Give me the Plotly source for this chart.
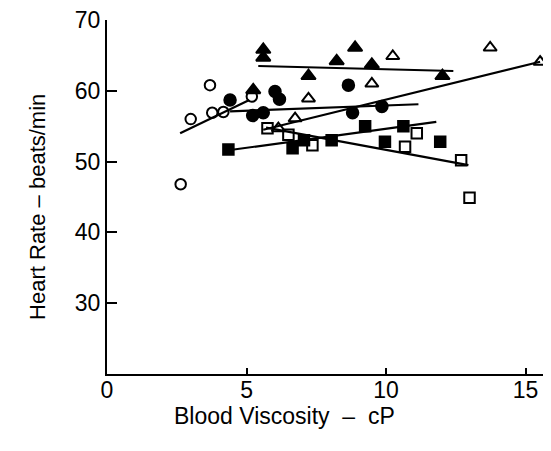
import plotly.graph_objects as go

# Open circles
oc_x = [2.64, 3.00, 3.69, 3.77, 4.17, 5.19]
oc_y = [46.8, 56.0, 60.8, 56.9, 57.0, 59.2]
oc_line_x = [2.62, 5.10]
oc_line_y = [54.0, 58.7]

# Filled circles
fc_x = [4.41, 5.22, 5.60, 6.02, 6.18, 8.65, 8.80, 9.85]
fc_y = [58.7, 56.5, 56.9, 59.9, 58.8, 60.8, 56.9, 57.8]
fc_line_x = [4.41, 11.16]
fc_line_y = [57.1, 58.1]

# Filled triangles
ft_x = [5.24, 5.60, 5.60, 7.22, 8.23, 8.89, 9.49, 12.02]
ft_y = [60.1, 65.8, 64.7, 62.1, 64.2, 66.1, 63.7, 62.1]
ft_line_x = [5.42, 12.41]
ft_line_y = [63.5, 62.8]

# Open triangles
ot_x = [6.14, 6.74, 7.22, 9.49, 10.24, 13.73, 15.52]
ot_y = [54.7, 56.1, 58.9, 61.0, 64.9, 66.1, 64.1]
ot_line_x = [5.60, 15.52]
ot_line_y = [54.5, 64.1]

# Filled squares
fs_x = [4.35, 6.65, 7.06, 8.05, 9.25, 9.96, 10.62, 11.94]
fs_y = [51.7, 51.9, 53.0, 53.0, 55.0, 52.8, 55.0, 52.8]
fs_line_x = [4.35, 11.80]
fs_line_y = [51.6, 55.6]

# Open squares
os_x = [5.75, 6.50, 7.36, 10.68, 11.10, 12.69, 12.99]
os_y = [54.7, 53.8, 52.3, 52.1, 54.0, 50.2, 44.9]
os_line_x = [5.70, 12.95]
os_line_y = [54.8, 49.5]

x_ticks = [0, 5, 10, 15]
y_ticks = [30, 40, 50, 60, 70]
x_title = "Blood Viscosity \u00a0\u2013\u00a0 cP"
y_title = "Heart Rate \u2013 beats/min"

fig = go.Figure()

lines = [(oc_line_x, oc_line_y), (fc_line_x, fc_line_y), (ft_line_x, ft_line_y),
         (ot_line_x, ot_line_y), (fs_line_x, fs_line_y), (os_line_x, os_line_y)]
for lx, ly in lines:
    fig.add_trace(go.Scatter(x=lx, y=ly, mode="lines",
                             line=dict(color="black", width=2.2), showlegend=False,
                             hoverinfo="skip"))

groups = [
    (oc_x, oc_y, "circle-open", 10.5),
    (fc_x, fc_y, "circle", 11.5),
    (ft_x, ft_y, "triangle-up", 12.5),
    (ot_x, ot_y, "triangle-up-open", 11.5),
    (fs_x, fs_y, "square", 10.5),
    (os_x, os_y, "square-open", 10.5),
]
for gx, gy, sym, sz in groups:
    fig.add_trace(go.Scatter(x=gx, y=gy, mode="markers",
                             marker=dict(symbol=sym, size=sz, color="black",
                                         line=dict(color="black", width=2)),
                             showlegend=False, cliponaxis=False))

font = dict(family="Liberation Sans, Arial, Helvetica, sans-serif", color="black", size=22)
tick_font = dict(font, size=23)
xt_font = dict(font, size=23)

fig.update_layout(
    width=543, height=435,
    margin=dict(l=99, r=0, t=12, b=69),
    paper_bgcolor="white", plot_bgcolor="white",
    font=font,
    showlegend=False,
    annotations=[
        dict(text=x_title, x=6.36, xref="x", y=0, yref="paper",
             yshift=-42, xanchor="center", yanchor="middle", showarrow=False, font=xt_font),
        dict(text=y_title, x=0, xref="paper", xshift=-69, y=43.6, yref="y",
             textangle=-90, xanchor="center", yanchor="middle", showarrow=False, font=font),
    ],
)
fig.update_xaxes(
    range=[0, 15.91], tickvals=x_ticks, ticktext=[str(v) for v in x_ticks],
    showgrid=False, zeroline=False, showline=True, linecolor="black", linewidth=2,
    ticks="inside", ticklen=6, tickwidth=2, tickcolor="black",
    tickfont=tick_font, ticklabelstandoff=-6, ticklabeloverflow="allow",
)
fig.update_yaxes(
    range=[20, 70], tickvals=y_ticks, ticktext=[str(v) for v in y_ticks],
    showgrid=False, zeroline=False, showline=True, linecolor="black", linewidth=2,
    ticks="inside", ticklen=10, tickwidth=2, tickcolor="black",
    tickfont=tick_font, ticklabeloverflow="allow",
)

fig.write_html("out.html")
